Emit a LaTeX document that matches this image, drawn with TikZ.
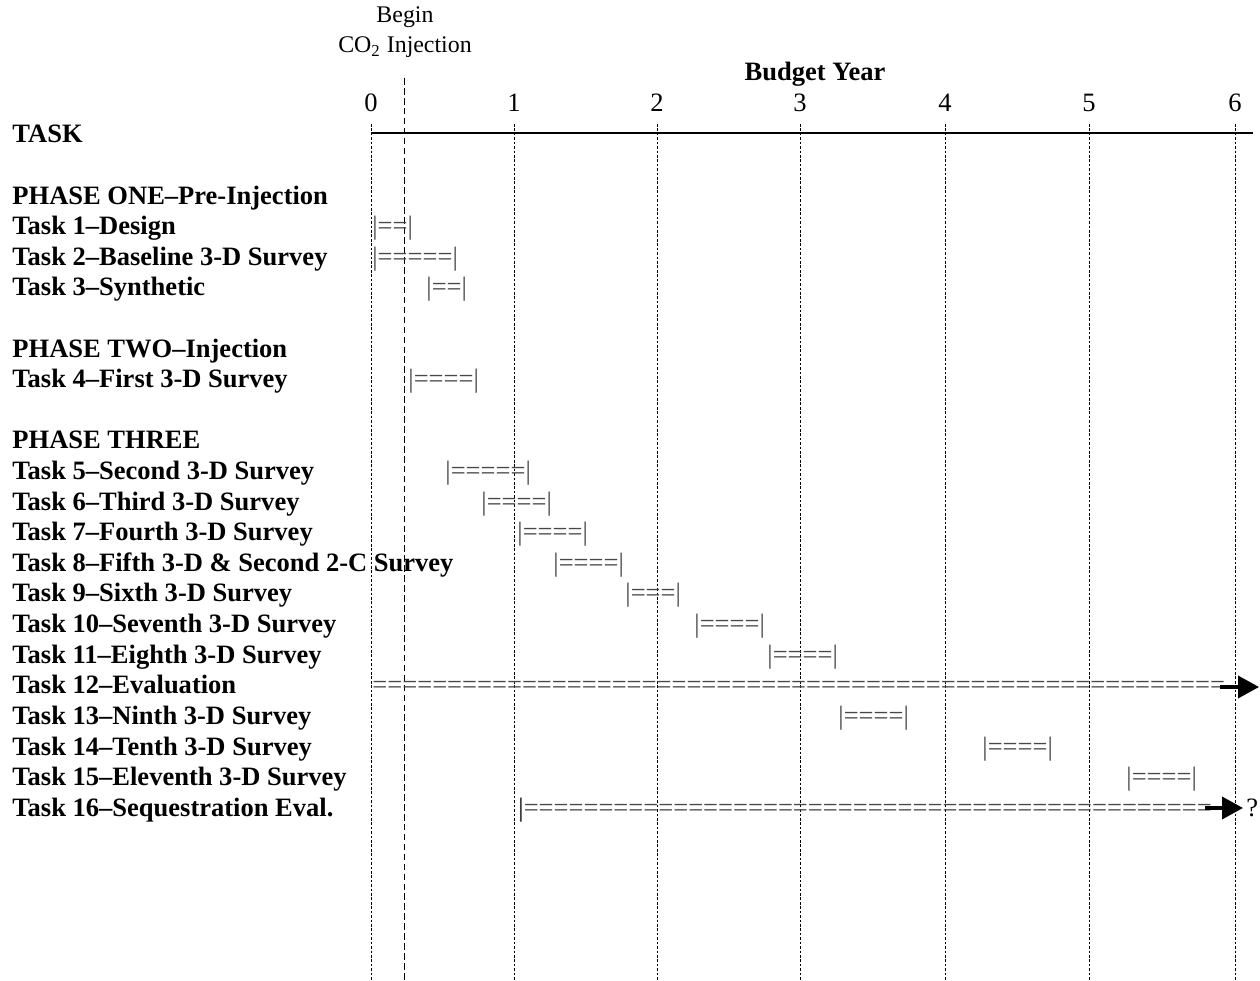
\documentclass[tikz,border=0pt]{standalone}
\usepackage{fontspec}
\setmainfont{Liberation Serif}
\usetikzlibrary{arrows.meta,positioning}
\tikzset{
  >={Triangle[length=9.5pt,width=10pt]},
  task/.style={anchor=base west,inner sep=0pt,font=\fontsize{12}{14}\selectfont\bfseries},
  gantt/.style={anchor=base west,inner sep=0pt,text=black!72,font=\fontsize{12}{14}\selectfont},
  year/.style={anchor=base,inner sep=0pt,font=\fontsize{12}{14}\selectfont},
  note/.style={anchor=base,inner sep=0pt,font=\fontsize{10.8}{13}\selectfont},
  yearline/.style={line width=0.4pt,dash pattern=on 1.2pt off 0.8pt},
  injline/.style={line width=0.4pt,dash pattern=on 3pt off 1.5pt},
  arrow/.style={->,line width=1.5pt},
}
\newcommand{\eqrun}[1]{\foreach\n in {1,...,#1}{=}}
\newcommand{\ganttbar}[1]{|\eqrun{#1}|}

\begin{document}
\begin{tikzpicture}[x=0.4525pt,y=-0.4525pt]
			\useasboundingbox (0,0) rectangle (1260,981);
			\node[note] (begin) at (405,23) {Begin};
			\node[note] (inj) at (405,53) {CO\textsubscript{2} Injection};
			\node[task,anchor=base] (budget) at (815,81) {Budget Year};
			\node[year] (y0) at (371,112) {0};
			\node[year] (y1) at (514,112) {1};
			\node[year] (y2) at (657,112) {2};
			\node[year] (y3) at (800,112) {3};
			\node[year] (y4) at (945,112) {4};
			\node[year] (y5) at (1089,112) {5};
			\node[year] (y6) at (1235,112) {6};
			\draw[line width=0.9pt] (371,133) -- (1253,133);
			\draw[injline] (404,78) -- (404,981);
			\foreach \x in {371,514,657,800,945,1089,1235}
				\draw[yearline] (\x,124) -- (\x,981);
			\node[task] (head) at (12,143) {TASK};
			\node[task] (ph1) at (12,204.2) {PHASE ONE–Pre-Injection};
			\node[task] (t1) at (12,234.8) {Task 1–Design};
			\node[task] (t2) at (12,265.4) {Task 2–Baseline 3-D Survey};
			\node[task] (t3) at (12,296) {Task 3–Synthetic};
			\node[task] (ph2) at (12,357.2) {PHASE TWO–Injection};
			\node[task] (t4) at (12,387.8) {Task 4–First 3-D Survey};
			\node[task] (ph3) at (12,449) {PHASE THREE};
			\node[task] (t5) at (12,479.6) {Task 5–Second 3-D Survey};
			\node[task] (t6) at (12,510.2) {Task 6–Third 3-D Survey};
			\node[task] (t7) at (12,540.8) {Task 7–Fourth 3-D Survey};
			\node[task] (t8) at (12,571.4) {Task 8–Fifth 3-D \& Second 2-C Survey};
			\node[task] (t9) at (12,602) {Task 9–Sixth 3-D Survey};
			\node[task] (t10) at (12,632.6) {Task 10–Seventh 3-D Survey};
			\node[task] (t11) at (12,663.2) {Task 11–Eighth 3-D Survey};
			\node[task] (t12) at (12,693.8) {Task 12–Evaluation};
			\node[task] (t13) at (12,724.4) {Task 13–Ninth 3-D Survey};
			\node[task] (t14) at (12,755) {Task 14–Tenth 3-D Survey};
			\node[task] (t15) at (12,785.6) {Task 15–Eleventh 3-D Survey};
			\node[task] (t16) at (12,816.2) {Task 16–Sequestration Eval.};
			\node[gantt] (b1) at (372,234.8) {\ganttbar{2}};
			\node[gantt] (b2) at (372,265.4) {\ganttbar{5}};
			\node[gantt] (b3) at (426,296) {\ganttbar{2}};
			\node[gantt] (b4) at (408,387.8) {\ganttbar{4}};
			\node[gantt] (b5) at (445,479.6) {\ganttbar{5}};
			\node[gantt] (b6) at (481,510.2) {\ganttbar{4}};
			\node[gantt] (b7) at (517,540.8) {\ganttbar{4}};
			\node[gantt] (b8) at (553,571.4) {\ganttbar{4}};
			\node[gantt] (b9) at (625,602) {\ganttbar{3}};
			\node[gantt] (b10) at (694,632.6) {\ganttbar{4}};
			\node[gantt] (b11) at (767,663.2) {\ganttbar{4}};
			\node[gantt] (b12) at (372,693.8) {\eqrun{57}};
			\node[gantt] (b13) at (838,724.4) {\ganttbar{4}};
			\node[gantt] (b14) at (982,755) {\ganttbar{4}};
			\node[gantt] (b15) at (1126,785.6) {\ganttbar{4}};
			\node[gantt] (b16) at (518,816.2) {\textcolor{black}{|}\eqrun{46}};
			\node[gantt,text=black] (open) at (1246,816.2) {?};
			\coordinate (a12) at (1220,687);
			\coordinate (e12) at (1259,687);
			\coordinate (a16) at (1205,808);
			\coordinate (e16) at (1243,808);
			\draw[arrow] (a12) -- (e12);
			\draw[arrow] (a16) -- (e16);
		\end{tikzpicture}
\end{document}
